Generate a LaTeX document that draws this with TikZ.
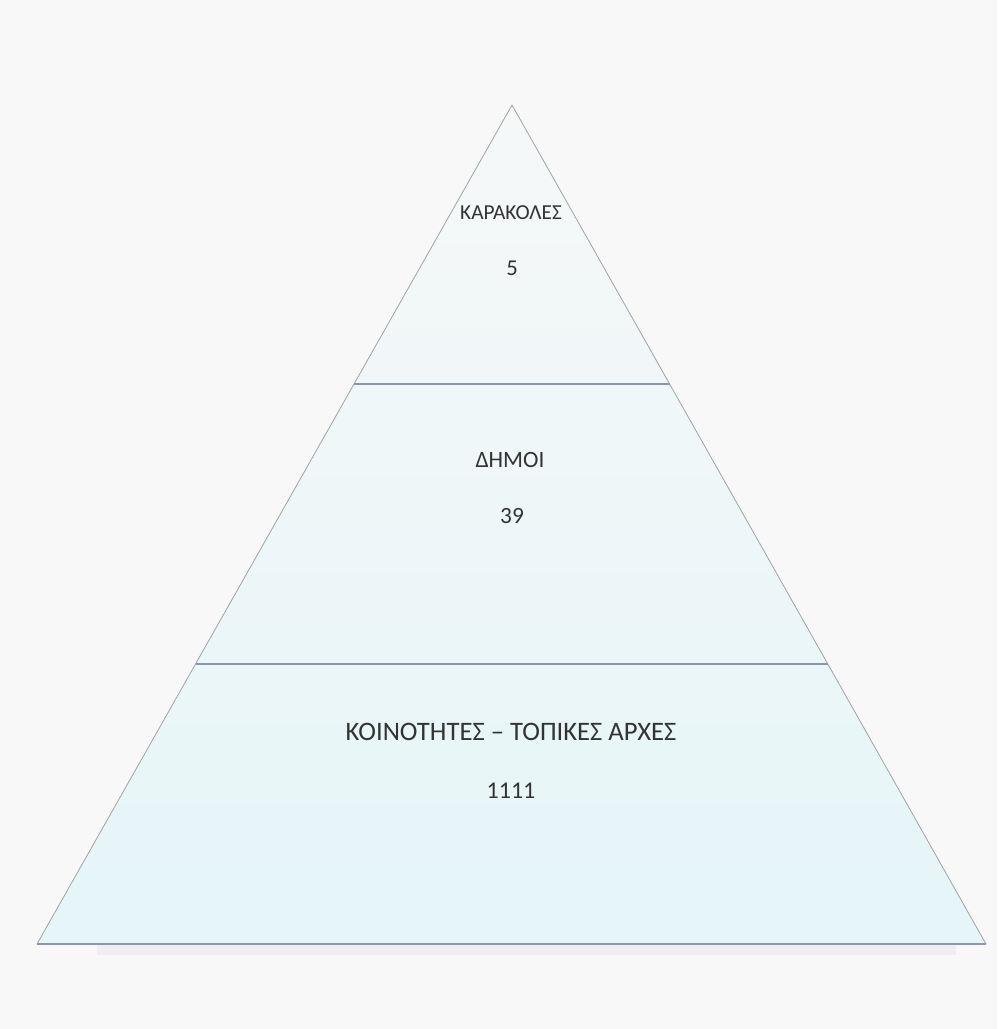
\documentclass[tikz,border=0pt]{standalone}
\usepackage{fontspec}
\setmainfont{Carlito}
\usetikzlibrary{calc}
\definecolor{pagebg}{HTML}{F8F8F8}
\definecolor{pyrtop}{HTML}{F6F8F8}
\definecolor{pyrbottom}{HTML}{E5F5F8}
\definecolor{pyredge}{HTML}{A0A3A6}
\definecolor{pyrsplit}{HTML}{8C95B2}
\definecolor{pyrtext}{HTML}{333333}
\definecolor{pyrshadow}{HTML}{EFEFF2}
\tikzset{
  levellabel/.style={text=pyrtext, inner sep=0pt, anchor=center},
  splitline/.style={draw=pyrsplit, line width=1pt},
}
\begin{document}
\begin{tikzpicture}[x=0.75pt,y=-0.75pt]
\fill[pagebg] (0,0) rectangle (997,1029);
\useasboundingbox (0,0) rectangle (997,1029);
\coordinate (apex) at (512,105);
\coordinate (bl) at (37,944);
\coordinate (br) at (986,944);
% shadow under the base
\fill[pyrshadow] ($(bl)+(60,1)$) rectangle ($(br)+(-30,11)$);
\shade[top color=pyrtop, bottom color=pyrbottom] (apex) -- (bl) -- (br) -- cycle;
\draw[pyredge, line width=0.6pt] (bl) -- (apex) -- (br);
\draw[splitline] (bl) -- (br);
% level borders
\coordinate (s1l) at ($(apex)!0.3325!(bl)$);
\coordinate (s1r) at ($(apex)!0.3325!(br)$);
\coordinate (s2l) at ($(apex)!0.6663!(bl)$);
\coordinate (s2r) at ($(apex)!0.6663!(br)$);
\draw[splitline] (s1l) -- (s1r);
\draw[splitline] (s2l) -- (s2r);
% labels
\node[levellabel, font=\fontsize{16}{18}\selectfont] (topname) at (511,213) {ΚΑΡΑΚΟΛΕΣ};
\node[levellabel, font=\fontsize{17}{19}\selectfont] (topnum) at (512,268) {5};
\node[levellabel, font=\fontsize{17.5}{20}\selectfont] (midname) at (510,460) {ΔΗΜΟΙ};
\node[levellabel, font=\fontsize{17.5}{20}\selectfont] (midnum) at (512,516) {39};
\node[levellabel, font=\fontsize{20}{22}\selectfont] (lowname) at (511,732) {ΚΟΙΝΟΤΗΤΕΣ – ΤΟΠΙΚΕΣ ΑΡΧΕΣ};
\node[levellabel, font=\fontsize{18}{20}\selectfont] (lownum) at (511,791) {1111};
\end{tikzpicture}
\end{document}
